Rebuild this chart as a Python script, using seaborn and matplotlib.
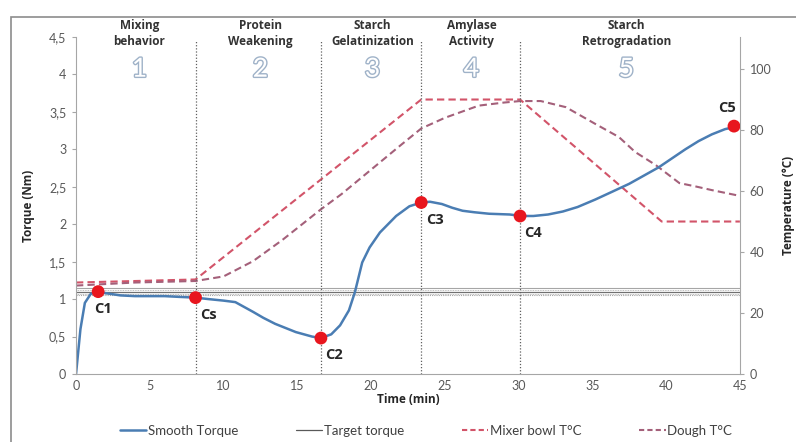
import numpy as np
import pandas as pd
import matplotlib.pyplot as plt
import matplotlib.patheffects as pe
from matplotlib.lines import Line2D
from matplotlib.patches import Rectangle
from matplotlib.ticker import FuncFormatter
import seaborn as sns

# smooth torque curve (min, Nm)
torque_time = [0, 0.3, 0.6, 1.0, 1.5, 2, 3, 4, 5, 6, 7, 8.1, 9, 10, 10.8, 12, 12.7, 13.5, 14.9,
               16, 16.6, 17.3, 17.9, 18.5, 18.9, 19.4, 19.9, 20.6, 21.7, 22.6, 23.4, 24, 24.8,
               25.5, 26.2, 27, 28, 29.4, 30.2, 31, 32, 33, 34, 35.2, 36.3, 37.5, 38.5, 39.5,
               40.4, 41.3, 42.2, 43.1, 44, 44.7]
torque_nm = [0, 0.6, 0.95, 1.07, 1.1, 1.08, 1.05, 1.04, 1.04, 1.04, 1.03, 1.02, 1.0, 0.98, 0.96,
             0.83, 0.75, 0.67, 0.56, 0.5, 0.48, 0.53, 0.65, 0.85, 1.09, 1.49, 1.69, 1.89, 2.11,
             2.24, 2.29, 2.3, 2.27, 2.22, 2.18, 2.16, 2.14, 2.13, 2.11, 2.11, 2.13, 2.17, 2.23,
             2.33, 2.43, 2.54, 2.65, 2.76, 2.88, 3.0, 3.11, 3.2, 3.27, 3.3]

# temperatures (min, degC)
bowl_time = [0, 8.1, 23.4, 30.1, 39.7, 45]
bowl_temp = [30, 31, 90, 90, 50, 50]
dough_time = [0, 4, 8.1, 10, 12, 14, 16.6, 18, 20, 22, 23.4, 25, 27.3, 29, 30.1, 31.5, 33.2,
              35.2, 36.8, 37.9, 39.3, 40.9, 42, 43.1, 45]
dough_temp = [29, 30, 30.5, 32, 37, 44, 54, 59, 67, 75, 80.5, 84, 88, 89, 89.5, 89.5, 87.5,
              82, 77.7, 72.8, 68.5, 62.6, 61.5, 60.3, 58.4]

# characteristic points
point_names = ["C1", "Cs", "C2", "C3", "C4", "C5"]
point_time = [1.5, 8.1, 16.6, 23.4, 30.1, 44.6]
point_torque = [1.1, 1.02, 0.48, 2.29, 2.11, 3.31]

target_torque = 1.1
target_band = 0.05

# phases
phase_bounds = [8.1, 16.6, 23.4, 30.1]
phase_names = ["Mixing\nbehavior", "Protein\nWeakening", "Starch\nGelatinization",
               "Amylase\nActivity", "Starch\nRetrogradation"]
phase_centers = [4.3, 12.5, 20.1, 26.8, 37.3]
phase_numbers = ["1", "2", "3", "4", "5"]

sns.set_style("white")
plt.rcParams["font.family"] = ["Lato", "DejaVu Sans"]
BOLD = ["Open Sans", "DejaVu Sans"]

blue = "#4a7db3"
bowl_col = "#d25469"
dough_col = "#a4607a"
grey = "#a6a6a6"

fig = plt.figure(figsize=(7.96, 4.42), dpi=100)
ax = fig.add_axes([0.0955, 0.1538, 0.834, 0.7625])
ax2 = ax.twinx()

df_t = pd.DataFrame({"time": torque_time, "torque": torque_nm})
df_b = pd.DataFrame({"time": bowl_time, "temp": bowl_temp})
df_d = pd.DataFrame({"time": dough_time, "temp": dough_temp})
df_p = pd.DataFrame({"time": point_time, "torque": point_torque, "name": point_names})

# temperatures on right axis
sns.lineplot(data=df_b, x="time", y="temp", ax=ax2, color=bowl_col, lw=1.5,
             linestyle=(0, (3.5, 2)), sort=False)
sns.lineplot(data=df_d, x="time", y="temp", ax=ax2, color=dough_col, lw=1.5,
             linestyle=(0, (3.5, 2)), sort=False)

# target torque band
ax.axhline(target_torque, color="#707070", lw=0.9)
ax.axhline(target_torque + target_band, color=grey, lw=0.8)
ax.axhline(target_torque - target_band, color=grey, lw=0.8, linestyle=(0, (1, 1)))
ax.axhline(target_torque + target_band / 2, color=grey, lw=0.6, linestyle=(0, (1, 1)))
ax.axhline(target_torque - target_band / 2, color=grey, lw=0.6, linestyle=(0, (1, 1)))

# phase boundaries
for b in phase_bounds:
    ax.plot([b, b], [0, 4.45], color="#606060", lw=0.9, linestyle=(0, (1, 1.5)))

sns.lineplot(data=df_t, x="time", y="torque", ax=ax, color=blue, lw=1.8, sort=False)
sns.scatterplot(data=df_p, x="time", y="torque", ax=ax, color="#e8161e", s=85,
                edgecolor="none", zorder=5)

label_off = {"C1": (-0.3, -0.23), "Cs": (0.3, -0.23), "C2": (0.3, -0.23),
             "C3": (0.3, -0.23), "C4": (0.3, -0.23), "C5": (-1.1, 0.24)}
for n, t, v in zip(point_names, point_time, point_torque):
    dx, dy = label_off[n]
    ax.text(t + dx, v + dy, n, fontsize=10.5, fontweight="bold", family=BOLD, color="#262626",
            ha="left", va="center")

ax.set_zorder(ax2.get_zorder() + 1)
ax.patch.set_visible(False)

ax.set_xlim(0, 45)
ax.set_ylim(0, 4.5)
ax2.set_ylim(0, 110.5)
ax.set_xticks(np.arange(0, 46, 5))
ax.set_yticks(np.arange(0, 4.6, 0.5))
ax2.set_yticks(np.arange(0, 101, 20))
ax.yaxis.set_major_formatter(FuncFormatter(lambda v, p: f"{v:g}".replace(".", ",")))

for a in (ax, ax2):
    for s in a.spines.values():
        s.set_visible(False)
    a.tick_params(length=3, width=0.8, color=grey, labelsize=9, labelcolor="#595959", pad=4)
ax.spines["left"].set_visible(True)
ax.spines["bottom"].set_visible(True)
ax.spines["left"].set_color(grey)
ax.spines["bottom"].set_color(grey)
ax2.spines["right"].set_visible(True)
ax2.spines["right"].set_color(grey)
ax.tick_params(axis="x", length=3, direction="in")
ax.tick_params(axis="y", left=True, direction="out")
ax2.tick_params(axis="y", right=True, direction="out")

ax.set_xlabel("Time (min)", fontsize=8.5, fontweight="bold", family=BOLD, color="#262626",
              labelpad=1)
ax.set_ylabel("Torque (Nm)", fontsize=8.5, fontweight="bold", family=BOLD, color="#262626",
              labelpad=10)
ax2.set_ylabel("Temperature (°C)", fontsize=8.5, fontweight="bold", family=BOLD,
               color="#262626", rotation=90, labelpad=8)

# phase titles and outlined numbers
for name, c, num in zip(phase_names, phase_centers, phase_numbers):
    ax.text(c, 4.55, name, fontsize=8.5, fontweight="bold", family=BOLD, color="#333333",
            ha="center", va="center", linespacing=1.35, clip_on=False)
    ax.text(c, 4.07, num, fontsize=19, color="white", ha="center", va="center",
            path_effects=[pe.withStroke(linewidth=2.0, foreground="#9fb2c8")], clip_on=False)

handles = [Line2D([], [], color=blue, lw=1.8),
           Line2D([], [], color="#595959", lw=0.9),
           Line2D([], [], color=bowl_col, lw=1.5, linestyle=(0, (2.5, 1.5))),
           Line2D([], [], color=dough_col, lw=1.5, linestyle=(0, (2.5, 1.5)))]
labels = ["Smooth Torque", "Target torque", "Mixer bowl T°C", "Dough T°C"]
fig.legend(handles, labels, loc="center", bbox_to_anchor=(0.535, 0.025), ncol=4,
           frameon=False, fontsize=9.5, handlelength=2.0, handletextpad=0.1,
           columnspacing=4.4, labelcolor="#404040")

fig.add_artist(Rectangle((11 / 796, -0.1), 1.0, 1 - 17 / 442 + 0.1, transform=fig.transFigure,
                         fill=False, edgecolor="#8c8c8c", lw=1.2))

fig.savefig("out.png", dpi=100)
